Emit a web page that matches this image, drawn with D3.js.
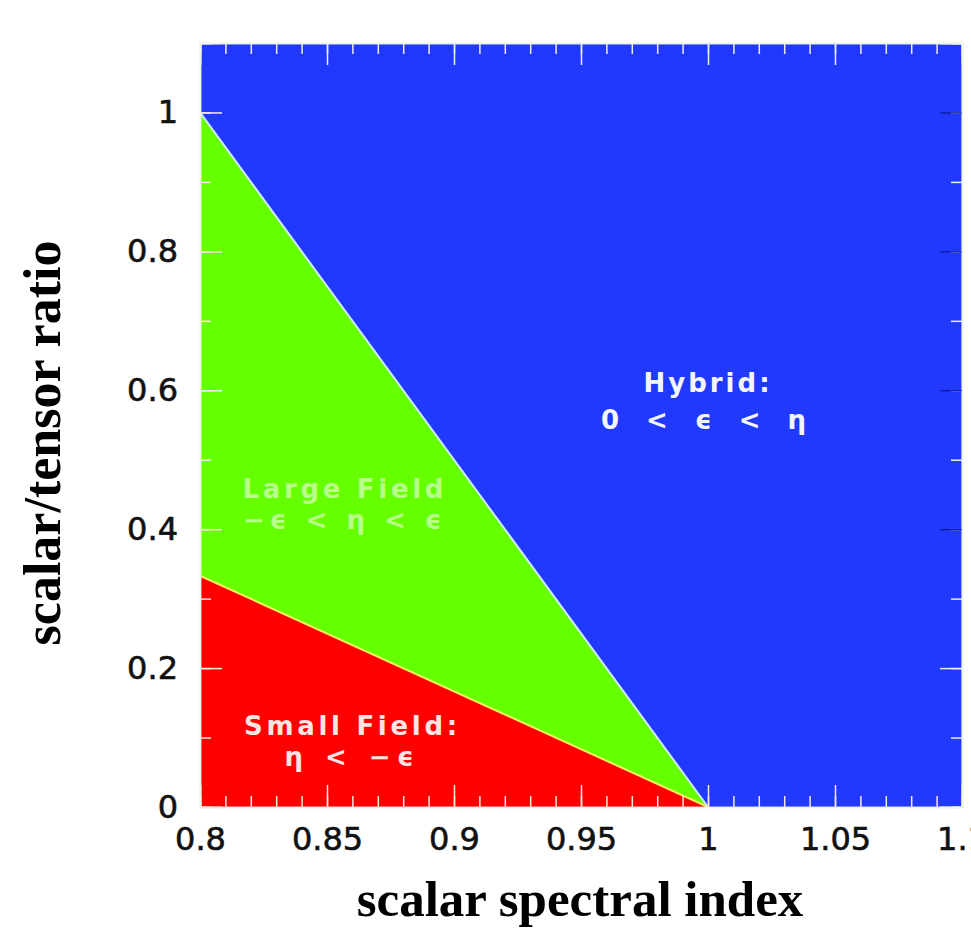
<!DOCTYPE html>
<html>
<head>
<meta charset="utf-8">
<script src="https://cdn.jsdelivr.net/npm/d3@7"></script>
<style>
  html, body { margin: 0; padding: 0; background: #fff; }
  svg { display: block; }
</style>
</head>
<body>
<script>
// Inflationary model classes in the (n, r) plane
const xDomain = [0.8, 1.1];
const yDomain = [0, 1.1];

// Region boundaries: large-field line and small-field line (n, r)
const largeFieldBoundaryN = [0.8, 1.0];
const largeFieldBoundaryR = [1.0, 0.0];
const smallFieldBoundaryN = [0.8, 1.0];
const smallFieldBoundaryR = [0.333, 0.0];

// Tick values and labels
const xMajorTicks = [0.8, 0.85, 0.9, 0.95, 1.0, 1.05, 1.1];
const xTickLabels = ["0.8", "0.85", "0.9", "0.95", "1", "1.05", "1.1"];
const xMinorTicks = d3.range(0, 31).map(i => +(0.8 + i * 0.01).toFixed(2));
const yMajorTicks = [0, 0.2, 0.4, 0.6, 0.8, 1.0];
const yTickLabels = ["0", "0.2", "0.4", "0.6", "0.8", "1"];
const yMinorTicks = d3.range(0, 12).map(i => +(i * 0.1).toFixed(1));

// Region annotations (anchor position in data units)
const regionNames = ["Hybrid:", "Large Field", "Small Field:"];
const regionConditions = ["0 < \u03F5 < \u03B7", "\u2212\u03F5 < \u03B7 < \u03F5", "\u03B7 < \u2212\u03F5"];
const regionLabelN = [1.0, 0.857, 0.86];
const regionLabelR = [0.598, 0.445, 0.104];

const width = 971, height = 934;
const margin = { left: 200, right: 9, top: 43, bottom: 127 };
const plotW = width - margin.left - margin.right;
const plotH = height - margin.top - margin.bottom;

const svg = d3.select("body").append("svg")
  .attr("width", width).attr("height", height);

const x = d3.scaleLinear().domain(xDomain).range([margin.left, margin.left + plotW]);
const y = d3.scaleLinear().domain(yDomain).range([margin.top + plotH, margin.top]);

const colors = { hybrid: "#2139fc", large: "#66ff00", small: "#ff0000" };

// Hybrid region fills the whole frame; other regions are painted on top
svg.append("rect")
  .attr("x", x(xDomain[0])).attr("y", y(yDomain[1]))
  .attr("width", x(xDomain[1]) - x(xDomain[0]))
  .attr("height", y(yDomain[0]) - y(yDomain[1]))
  .attr("fill", colors.hybrid);

const line = d3.line().x(d => x(d[0])).y(d => y(d[1]));

const largePts = largeFieldBoundaryN.map((n, i) => [n, largeFieldBoundaryR[i]]);
const smallPts = smallFieldBoundaryN.map((n, i) => [n, smallFieldBoundaryR[i]]);

// Large field: between the two boundaries
svg.append("path")
  .attr("d", line([...largePts, ...smallPts.slice().reverse()]) + "Z")
  .attr("fill", colors.large);

// Small field: below the small-field boundary
svg.append("path")
  .attr("d", line([...smallPts, [xDomain[0], 0]]) + "Z")
  .attr("fill", colors.small);

// Boundary edges
svg.append("path").attr("d", line(largePts))
  .attr("fill", "none").attr("stroke", "#cfe8ff").attr("stroke-width", 2);
svg.append("path").attr("d", line(smallPts))
  .attr("fill", "none").attr("stroke", "#f4f060").attr("stroke-width", 2);

// Axes: inward ticks, major and minor
const majorLen = 22, minorLen = 11;
const tickFont = "'DejaVu Sans', sans-serif";

function styleAxis(g, color) {
  g.select(".domain").attr("stroke", "#eef6e8").attr("stroke-width", 1.5);
  g.selectAll(".tick line").attr("stroke", color).attr("stroke-width", 1.5);
  g.selectAll("text").attr("font-family", tickFont).attr("font-size", 32)
    .attr("fill", "#111").attr("stroke", "#111").attr("stroke-width", 0.6);
}

const bottomY = y(yDomain[0]), topY = y(yDomain[1]);
const leftX = x(xDomain[0]), rightX = x(xDomain[1]);

// bottom minor + major
svg.append("g").attr("transform", `translate(0,${bottomY})`)
  .call(d3.axisBottom(x).tickValues(xMinorTicks).tickSize(-minorLen).tickFormat(""))
  .call(g => styleAxis(g, "#f5e6e6"));
svg.append("g").attr("transform", `translate(0,${bottomY})`)
  .call(d3.axisBottom(x).tickValues(xMajorTicks).tickSize(-majorLen).tickPadding(20)
    .tickFormat((d, i) => xTickLabels[i]))
  .call(g => styleAxis(g, "#f5e6e6"));

// top minor + major
svg.append("g").attr("transform", `translate(0,${topY})`)
  .call(d3.axisTop(x).tickValues(xMinorTicks).tickSize(-minorLen).tickFormat(""))
  .call(g => styleAxis(g, "#e8ecff"));
svg.append("g").attr("transform", `translate(0,${topY})`)
  .call(d3.axisTop(x).tickValues(xMajorTicks).tickSize(-majorLen).tickFormat(""))
  .call(g => styleAxis(g, "#e8ecff"));

// left minor + major
svg.append("g").attr("transform", `translate(${leftX},0)`)
  .call(d3.axisLeft(y).tickValues(yMinorTicks).tickSize(-minorLen).tickFormat(""))
  .call(g => styleAxis(g, "#f5e6e6"));
svg.append("g").attr("transform", `translate(${leftX},0)`)
  .call(d3.axisLeft(y).tickValues(yMajorTicks).tickSize(-majorLen).tickPadding(22)
    .tickFormat((d, i) => yTickLabels[i]))
  .call(g => styleAxis(g, "#f5e6e6"));

// right minor + major
svg.append("g").attr("transform", `translate(${rightX},0)`)
  .call(d3.axisRight(y).tickValues(yMinorTicks).tickSize(-minorLen).tickFormat(""))
  .call(g => styleAxis(g, "#e8ecff"));
svg.append("g").attr("transform", `translate(${rightX},0)`)
  .call(d3.axisRight(y).tickValues(yMajorTicks.filter(v => v > 0.3)).tickSize(-majorLen).tickFormat(""))
  .call(g => styleAxis(g, "#0c1ea8"));
svg.append("g").attr("transform", `translate(${rightX},0)`)
  .call(d3.axisRight(y).tickValues(yMajorTicks.filter(v => v > 0 && v < 0.3)).tickSize(-majorLen).tickFormat(""))
  .call(g => styleAxis(g, "#e8ecff"));

// Region annotations: name line and condition line
const labelFills = ["#f4f6ff", "#b9ff8c", "#ffe4e4"];
const nameSpacing = [3, 3.7, 3.7];
const condSpacing = [9, 5, 6.5];
const lineGap = [37, 31, 31];
regionNames.forEach((name, i) => {
  const cx = x(regionLabelN[i]), cy = y(regionLabelR[i]);
  const t = svg.append("text")
    .attr("text-anchor", "middle")
    .attr("font-family", tickFont)
    .attr("font-weight", "bold")
    .attr("font-size", 26)
    .attr("fill", labelFills[i]);
  t.append("tspan").attr("x", cx).attr("y", cy)
    .attr("letter-spacing", nameSpacing[i]).text(name);
  t.append("tspan").attr("x", cx).attr("y", cy + lineGap[i])
    .attr("letter-spacing", condSpacing[i]).text(regionConditions[i]);
});

// Axis titles
svg.append("text")
  .attr("x", (leftX + rightX) / 2 - 1).attr("y", 916)
  .attr("text-anchor", "middle")
  .attr("font-family", "'Liberation Serif', 'Times New Roman', serif")
  .attr("font-weight", "bold").attr("font-size", 51)
  .attr("fill", "#000")
  .text("scalar spectral index");

svg.append("text")
  .attr("transform", `translate(60,${(topY + bottomY) / 2 + 18}) rotate(-90)`)
  .attr("text-anchor", "middle")
  .attr("font-family", "'Liberation Serif', 'Times New Roman', serif")
  .attr("font-weight", "bold").attr("font-size", 52)
  .attr("fill", "#000")
  .text("scalar/tensor ratio");
</script>
</body>
</html>
